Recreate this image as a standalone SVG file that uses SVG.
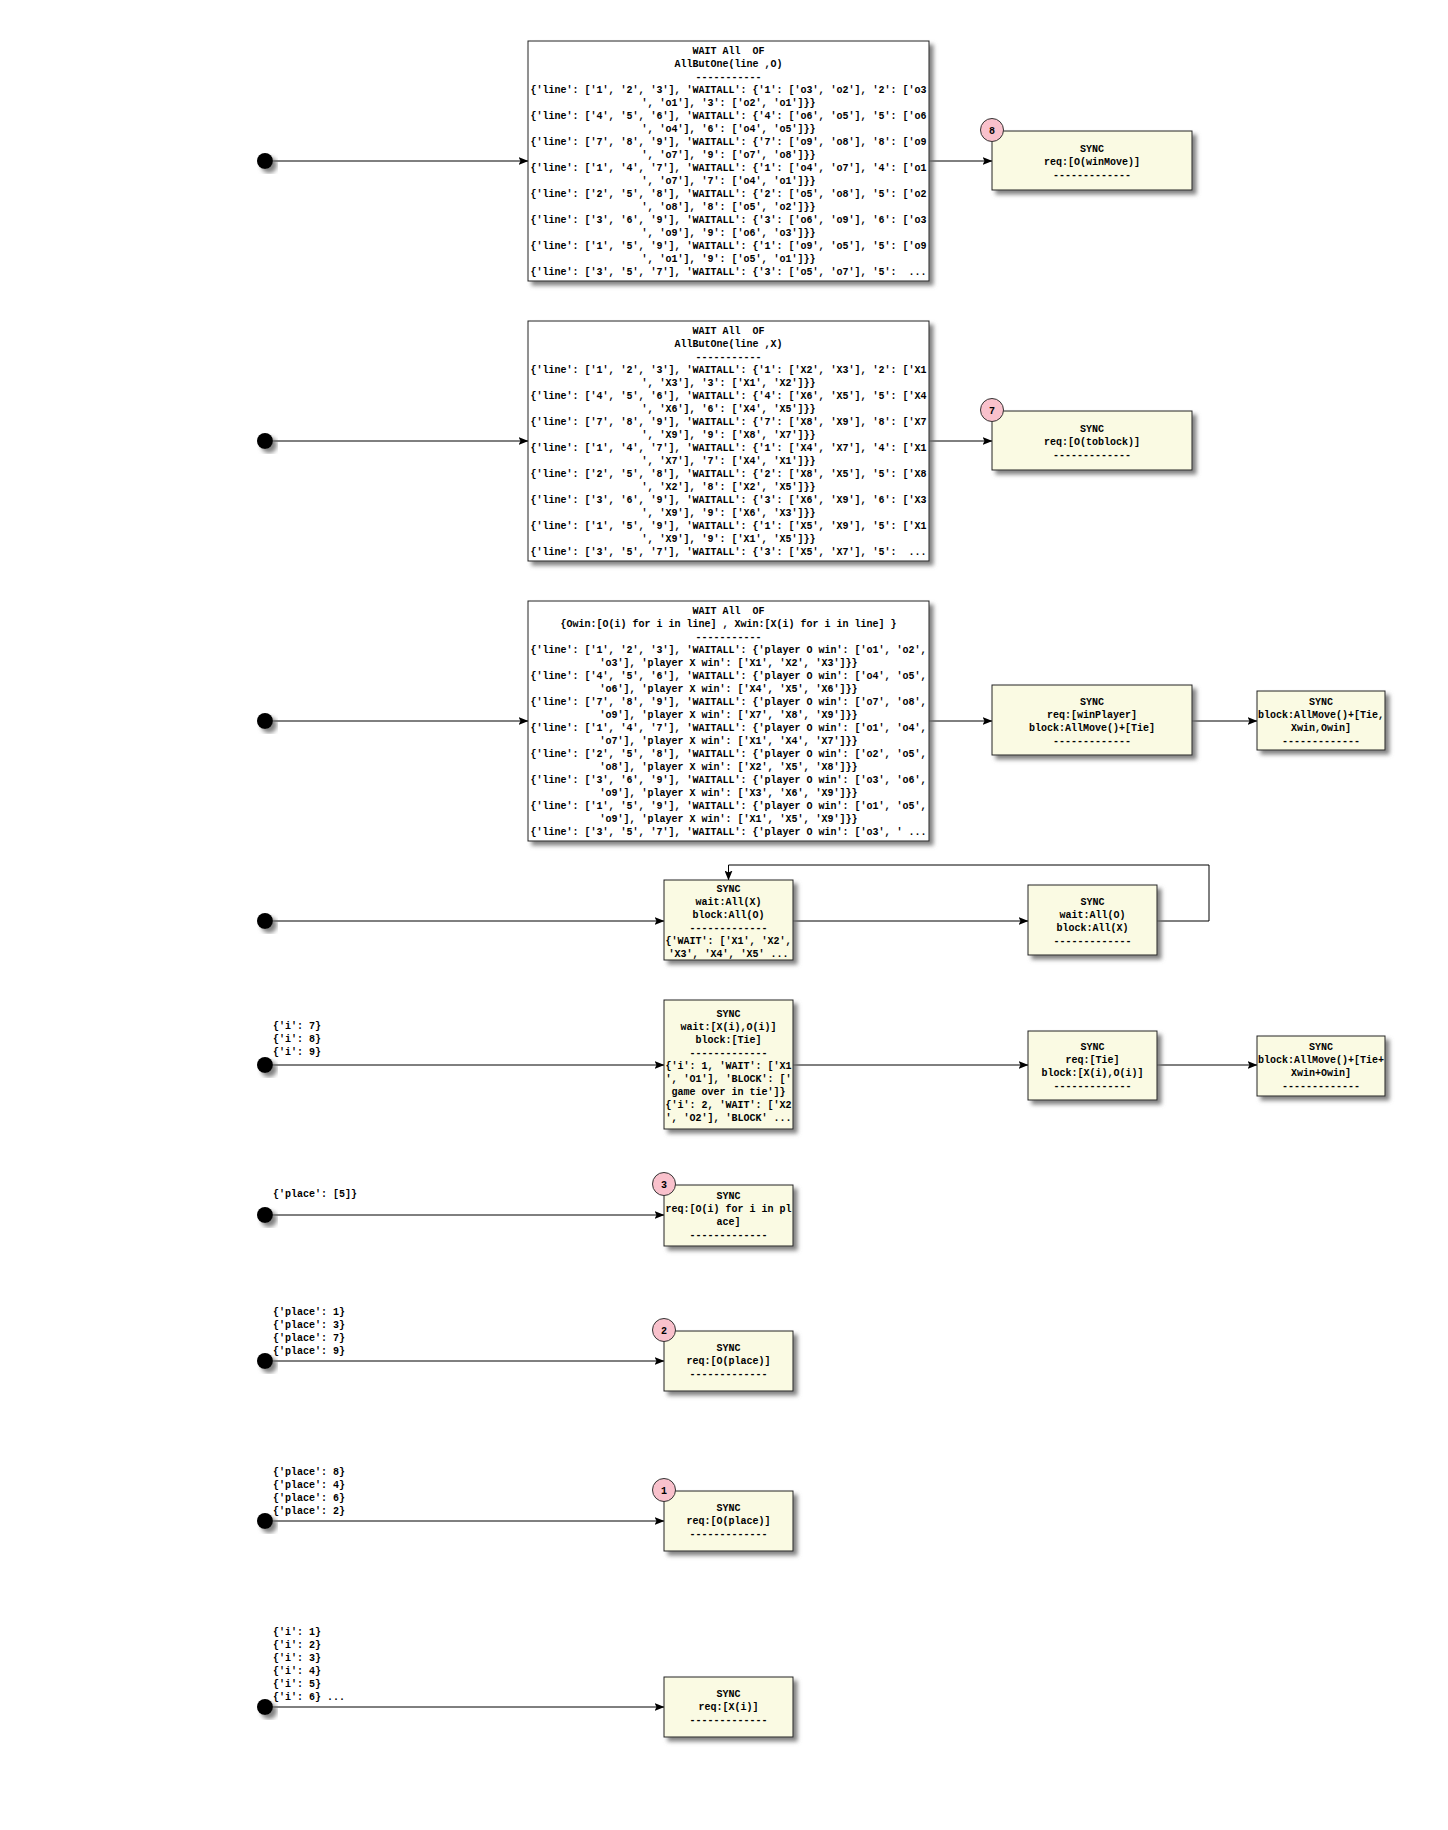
<svg xmlns="http://www.w3.org/2000/svg" width="1448" height="1830" viewBox="0 0 1448 1830">
<style>
text{font-family:"Liberation Mono","DejaVu Sans Mono",monospace;font-size:10px;font-weight:bold;fill:#000;white-space:pre}
.c{text-anchor:middle}
.l{text-anchor:start}
.big{fill:#FFFFFF;stroke:#222;stroke-width:1}
.sync{fill:#FAFAE3;stroke:#222;stroke-width:1}
.num{fill:#F9C1CC;stroke:#333;stroke-width:1}
.dot{fill:#000}
.edge{fill:none;stroke:#000;stroke-width:1}
</style>
<defs>
<filter id="sh" x="-20%" y="-20%" width="150%" height="150%">
<feGaussianBlur in="SourceAlpha" stdDeviation="2.2" result="b"/>
<feColorMatrix in="b" type="matrix" values="0 0 0 0 0.15  0 0 0 0 0.15  0 0 0 0 0.15  0 0 0 0.85 0" result="g"/>
<feOffset in="g" dx="4" dy="4" result="o"/>
<feMerge><feMergeNode in="o"/><feMergeNode in="SourceGraphic"/></feMerge>
</filter>
<marker id="ah" viewBox="0 0 10 8" refX="9.5" refY="4" markerWidth="10" markerHeight="8" markerUnits="userSpaceOnUse" orient="auto">
<path d="M0,0 L10,4 L0,8 L2,4 Z" fill="#000" stroke="none"/>
</marker>
</defs>
<rect x="0" y="0" width="1448" height="1830" fill="#FFFFFF"/>

<g id="connectors">
<line class="edge" x1="265" y1="161" x2="528" y2="161" marker-end="url(#ah)"/>
<line class="edge" x1="929" y1="161" x2="992" y2="161" marker-end="url(#ah)"/>
<line class="edge" x1="265" y1="441" x2="528" y2="441" marker-end="url(#ah)"/>
<line class="edge" x1="929" y1="441" x2="992" y2="441" marker-end="url(#ah)"/>
<line class="edge" x1="265" y1="721" x2="528" y2="721" marker-end="url(#ah)"/>
<line class="edge" x1="929" y1="721" x2="992" y2="721" marker-end="url(#ah)"/>
<line class="edge" x1="1192" y1="721" x2="1257" y2="721" marker-end="url(#ah)"/>
<line class="edge" x1="265" y1="921" x2="664" y2="921" marker-end="url(#ah)"/>
<line class="edge" x1="793" y1="921" x2="1028" y2="921" marker-end="url(#ah)"/>
<path class="edge" d="M1157,921 H1209 V865 H728.5 V880" marker-end="url(#ah)"/>
<line class="edge" x1="265" y1="1065" x2="664" y2="1065" marker-end="url(#ah)"/>
<line class="edge" x1="793" y1="1065" x2="1028" y2="1065" marker-end="url(#ah)"/>
<line class="edge" x1="1157" y1="1065" x2="1257" y2="1065" marker-end="url(#ah)"/>
<line class="edge" x1="265" y1="1215" x2="664" y2="1215" marker-end="url(#ah)"/>
<line class="edge" x1="265" y1="1361" x2="664" y2="1361" marker-end="url(#ah)"/>
<line class="edge" x1="265" y1="1521" x2="664" y2="1521" marker-end="url(#ah)"/>
<line class="edge" x1="265" y1="1707" x2="664" y2="1707" marker-end="url(#ah)"/>
</g>

<g id="start1"><circle class="dot" cx="265" cy="161" r="8" filter="url(#sh)"/></g>
<g id="start2"><circle class="dot" cx="265" cy="441" r="8" filter="url(#sh)"/></g>
<g id="start3"><circle class="dot" cx="265" cy="721" r="8" filter="url(#sh)"/></g>
<g id="start4"><circle class="dot" cx="265" cy="921" r="8" filter="url(#sh)"/></g>
<g id="start5"><circle class="dot" cx="265" cy="1065" r="8" filter="url(#sh)"/>
<text class="l" x="273" y="1028.5">{'i': 7}</text>
<text class="l" x="273" y="1041.5">{'i': 8}</text>
<text class="l" x="273" y="1054.5">{'i': 9}</text>
</g>
<g id="start6"><circle class="dot" cx="265" cy="1215" r="8" filter="url(#sh)"/>
<text class="l" x="273" y="1197">{'place': [5]}</text>
</g>
<g id="start7"><circle class="dot" cx="265" cy="1361" r="8" filter="url(#sh)"/>
<text class="l" x="273" y="1314.5">{'place': 1}</text>
<text class="l" x="273" y="1327.5">{'place': 3}</text>
<text class="l" x="273" y="1340.5">{'place': 7}</text>
<text class="l" x="273" y="1353.5">{'place': 9}</text>
</g>
<g id="start8"><circle class="dot" cx="265" cy="1521" r="8" filter="url(#sh)"/>
<text class="l" x="273" y="1474.5">{'place': 8}</text>
<text class="l" x="273" y="1487.5">{'place': 4}</text>
<text class="l" x="273" y="1500.5">{'place': 6}</text>
<text class="l" x="273" y="1513.5">{'place': 2}</text>
</g>
<g id="start9"><circle class="dot" cx="265" cy="1707" r="8" filter="url(#sh)"/>
<text class="l" x="273" y="1634.5">{'i': 1}</text>
<text class="l" x="273" y="1647.5">{'i': 2}</text>
<text class="l" x="273" y="1660.5">{'i': 3}</text>
<text class="l" x="273" y="1673.5">{'i': 4}</text>
<text class="l" x="273" y="1686.5">{'i': 5}</text>
<text class="l" x="273" y="1699.5">{'i': 6} ...</text>
</g>

<g id="waitO">
<rect class="big" x="528" y="41" width="401" height="240" filter="url(#sh)"/>
<text class="c" x="728.5" y="54"><tspan x="728.5" dy="0">WAIT All  OF</tspan><tspan x="728.5" dy="13">AllButOne(line ,O)</tspan><tspan x="728.5" dy="13">-----------</tspan><tspan x="728.5" dy="13">{'line': ['1', '2', '3'], 'WAITALL': {'1': ['o3', 'o2'], '2': ['o3</tspan><tspan x="728.5" dy="13">', 'o1'], '3': ['o2', 'o1']}}</tspan><tspan x="728.5" dy="13">{'line': ['4', '5', '6'], 'WAITALL': {'4': ['o6', 'o5'], '5': ['o6</tspan><tspan x="728.5" dy="13">', 'o4'], '6': ['o4', 'o5']}}</tspan><tspan x="728.5" dy="13">{'line': ['7', '8', '9'], 'WAITALL': {'7': ['o9', 'o8'], '8': ['o9</tspan><tspan x="728.5" dy="13">', 'o7'], '9': ['o7', 'o8']}}</tspan><tspan x="728.5" dy="13">{'line': ['1', '4', '7'], 'WAITALL': {'1': ['o4', 'o7'], '4': ['o1</tspan><tspan x="728.5" dy="13">', 'o7'], '7': ['o4', 'o1']}}</tspan><tspan x="728.5" dy="13">{'line': ['2', '5', '8'], 'WAITALL': {'2': ['o5', 'o8'], '5': ['o2</tspan><tspan x="728.5" dy="13">', 'o8'], '8': ['o5', 'o2']}}</tspan><tspan x="728.5" dy="13">{'line': ['3', '6', '9'], 'WAITALL': {'3': ['o6', 'o9'], '6': ['o3</tspan><tspan x="728.5" dy="13">', 'o9'], '9': ['o6', 'o3']}}</tspan><tspan x="728.5" dy="13">{'line': ['1', '5', '9'], 'WAITALL': {'1': ['o9', 'o5'], '5': ['o9</tspan><tspan x="728.5" dy="13">', 'o1'], '9': ['o5', 'o1']}}</tspan><tspan x="728.5" dy="13">{'line': ['3', '5', '7'], 'WAITALL': {'3': ['o5', 'o7'], '5':  ...</tspan></text>
</g>

<g id="sync8">
<rect class="sync" x="992" y="131" width="200" height="59" filter="url(#sh)"/>
<text class="c" x="1092" y="152"><tspan x="1092" dy="0">SYNC</tspan><tspan x="1092" dy="13">req:[O(winMove)]</tspan><tspan x="1092" dy="13">-------------</tspan></text>
<circle class="num" cx="992" cy="130" r="11.5"/>
<text class="c" x="992" y="133.5">8</text>
</g>

<g id="waitX">
<rect class="big" x="528" y="321" width="401" height="240" filter="url(#sh)"/>
<text class="c" x="728.5" y="334"><tspan x="728.5" dy="0">WAIT All  OF</tspan><tspan x="728.5" dy="13">AllButOne(line ,X)</tspan><tspan x="728.5" dy="13">-----------</tspan><tspan x="728.5" dy="13">{'line': ['1', '2', '3'], 'WAITALL': {'1': ['X2', 'X3'], '2': ['X1</tspan><tspan x="728.5" dy="13">', 'X3'], '3': ['X1', 'X2']}}</tspan><tspan x="728.5" dy="13">{'line': ['4', '5', '6'], 'WAITALL': {'4': ['X6', 'X5'], '5': ['X4</tspan><tspan x="728.5" dy="13">', 'X6'], '6': ['X4', 'X5']}}</tspan><tspan x="728.5" dy="13">{'line': ['7', '8', '9'], 'WAITALL': {'7': ['X8', 'X9'], '8': ['X7</tspan><tspan x="728.5" dy="13">', 'X9'], '9': ['X8', 'X7']}}</tspan><tspan x="728.5" dy="13">{'line': ['1', '4', '7'], 'WAITALL': {'1': ['X4', 'X7'], '4': ['X1</tspan><tspan x="728.5" dy="13">', 'X7'], '7': ['X4', 'X1']}}</tspan><tspan x="728.5" dy="13">{'line': ['2', '5', '8'], 'WAITALL': {'2': ['X8', 'X5'], '5': ['X8</tspan><tspan x="728.5" dy="13">', 'X2'], '8': ['X2', 'X5']}}</tspan><tspan x="728.5" dy="13">{'line': ['3', '6', '9'], 'WAITALL': {'3': ['X6', 'X9'], '6': ['X3</tspan><tspan x="728.5" dy="13">', 'X9'], '9': ['X6', 'X3']}}</tspan><tspan x="728.5" dy="13">{'line': ['1', '5', '9'], 'WAITALL': {'1': ['X5', 'X9'], '5': ['X1</tspan><tspan x="728.5" dy="13">', 'X9'], '9': ['X1', 'X5']}}</tspan><tspan x="728.5" dy="13">{'line': ['3', '5', '7'], 'WAITALL': {'3': ['X5', 'X7'], '5':  ...</tspan></text>
</g>

<g id="sync7">
<rect class="sync" x="992" y="411" width="200" height="59" filter="url(#sh)"/>
<text class="c" x="1092" y="432"><tspan x="1092" dy="0">SYNC</tspan><tspan x="1092" dy="13">req:[O(toblock)]</tspan><tspan x="1092" dy="13">-------------</tspan></text>
<circle class="num" cx="992" cy="410" r="11.5"/>
<text class="c" x="992" y="413.5">7</text>
</g>

<g id="waitWin">
<rect class="big" x="528" y="601" width="401" height="240" filter="url(#sh)"/>
<text class="c" x="728.5" y="614"><tspan x="728.5" dy="0">WAIT All  OF</tspan><tspan x="728.5" dy="13">{Owin:[O(i) for i in line] , Xwin:[X(i) for i in line] }</tspan><tspan x="728.5" dy="13">-----------</tspan><tspan x="728.5" dy="13">{'line': ['1', '2', '3'], 'WAITALL': {'player O win': ['o1', 'o2',</tspan><tspan x="728.5" dy="13">'o3'], 'player X win': ['X1', 'X2', 'X3']}}</tspan><tspan x="728.5" dy="13">{'line': ['4', '5', '6'], 'WAITALL': {'player O win': ['o4', 'o5',</tspan><tspan x="728.5" dy="13">'o6'], 'player X win': ['X4', 'X5', 'X6']}}</tspan><tspan x="728.5" dy="13">{'line': ['7', '8', '9'], 'WAITALL': {'player O win': ['o7', 'o8',</tspan><tspan x="728.5" dy="13">'o9'], 'player X win': ['X7', 'X8', 'X9']}}</tspan><tspan x="728.5" dy="13">{'line': ['1', '4', '7'], 'WAITALL': {'player O win': ['o1', 'o4',</tspan><tspan x="728.5" dy="13">'o7'], 'player X win': ['X1', 'X4', 'X7']}}</tspan><tspan x="728.5" dy="13">{'line': ['2', '5', '8'], 'WAITALL': {'player O win': ['o2', 'o5',</tspan><tspan x="728.5" dy="13">'o8'], 'player X win': ['X2', 'X5', 'X8']}}</tspan><tspan x="728.5" dy="13">{'line': ['3', '6', '9'], 'WAITALL': {'player O win': ['o3', 'o6',</tspan><tspan x="728.5" dy="13">'o9'], 'player X win': ['X3', 'X6', 'X9']}}</tspan><tspan x="728.5" dy="13">{'line': ['1', '5', '9'], 'WAITALL': {'player O win': ['o1', 'o5',</tspan><tspan x="728.5" dy="13">'o9'], 'player X win': ['X1', 'X5', 'X9']}}</tspan><tspan x="728.5" dy="13">{'line': ['3', '5', '7'], 'WAITALL': {'player O win': ['o3', ' ...</tspan></text>
</g>

<g id="syncWinPlayer">
<rect class="sync" x="992" y="685" width="200" height="70" filter="url(#sh)"/>
<text class="c" x="1092" y="705"><tspan x="1092" dy="0">SYNC</tspan><tspan x="1092" dy="13">req:[winPlayer]</tspan><tspan x="1092" dy="13">block:AllMove()+[Tie]</tspan><tspan x="1092" dy="13">-------------</tspan></text>
</g>

<g id="syncGameOver1">
<rect class="sync" x="1257" y="691" width="128" height="59" filter="url(#sh)"/>
<text class="c" x="1321" y="705"><tspan x="1321" dy="0">SYNC</tspan><tspan x="1321" dy="13">block:AllMove()+[Tie,</tspan><tspan x="1321" dy="13">Xwin,Owin]</tspan><tspan x="1321" dy="13">-------------</tspan></text>
</g>

<g id="syncWaitX">
<rect class="sync" x="664" y="880" width="129" height="80" filter="url(#sh)"/>
<text class="c" x="728.5" y="892"><tspan x="728.5" dy="0">SYNC</tspan><tspan x="728.5" dy="13">wait:All(X)</tspan><tspan x="728.5" dy="13">block:All(O)</tspan><tspan x="728.5" dy="13">-------------</tspan><tspan x="728.5" dy="13">{'WAIT': ['X1', 'X2',</tspan><tspan x="728.5" dy="13">'X3', 'X4', 'X5' ...</tspan></text>
</g>

<g id="syncWaitO">
<rect class="sync" x="1028" y="885" width="129" height="70" filter="url(#sh)"/>
<text class="c" x="1092.5" y="905"><tspan x="1092.5" dy="0">SYNC</tspan><tspan x="1092.5" dy="13">wait:All(O)</tspan><tspan x="1092.5" dy="13">block:All(X)</tspan><tspan x="1092.5" dy="13">-------------</tspan></text>
</g>

<g id="syncWaitXO">
<rect class="sync" x="664" y="1000" width="129" height="129" filter="url(#sh)"/>
<text class="c" x="728.5" y="1017"><tspan x="728.5" dy="0">SYNC</tspan><tspan x="728.5" dy="13">wait:[X(i),O(i)]</tspan><tspan x="728.5" dy="13">block:[Tie]</tspan><tspan x="728.5" dy="13">-------------</tspan><tspan x="728.5" dy="13">{'i': 1, 'WAIT': ['X1</tspan><tspan x="728.5" dy="13">', 'O1'], 'BLOCK': ['</tspan><tspan x="728.5" dy="13">game over in tie']}</tspan><tspan x="728.5" dy="13">{'i': 2, 'WAIT': ['X2</tspan><tspan x="728.5" dy="13">', 'O2'], 'BLOCK' ...</tspan></text>
</g>

<g id="syncTie">
<rect class="sync" x="1028" y="1031" width="129" height="69" filter="url(#sh)"/>
<text class="c" x="1092.5" y="1050"><tspan x="1092.5" dy="0">SYNC</tspan><tspan x="1092.5" dy="13">req:[Tie]</tspan><tspan x="1092.5" dy="13">block:[X(i),O(i)]</tspan><tspan x="1092.5" dy="13">-------------</tspan></text>
</g>

<g id="syncGameOver2">
<rect class="sync" x="1257" y="1036" width="128" height="60" filter="url(#sh)"/>
<text class="c" x="1321" y="1050"><tspan x="1321" dy="0">SYNC</tspan><tspan x="1321" dy="13">block:AllMove()+[Tie+</tspan><tspan x="1321" dy="13">Xwin+Owin]</tspan><tspan x="1321" dy="13">-------------</tspan></text>
</g>

<g id="sync3">
<rect class="sync" x="664" y="1185" width="129" height="61" filter="url(#sh)"/>
<text class="c" x="728.5" y="1199"><tspan x="728.5" dy="0">SYNC</tspan><tspan x="728.5" dy="13">req:[O(i) for i in pl</tspan><tspan x="728.5" dy="13">ace]</tspan><tspan x="728.5" dy="13">-------------</tspan></text>
<circle class="num" cx="664" cy="1184" r="11.5"/>
<text class="c" x="664" y="1187.5">3</text>
</g>

<g id="sync2">
<rect class="sync" x="664" y="1331" width="129" height="60" filter="url(#sh)"/>
<text class="c" x="728.5" y="1351"><tspan x="728.5" dy="0">SYNC</tspan><tspan x="728.5" dy="13">req:[O(place)]</tspan><tspan x="728.5" dy="13">-------------</tspan></text>
<circle class="num" cx="664" cy="1330" r="11.5"/>
<text class="c" x="664" y="1333.5">2</text>
</g>

<g id="sync1">
<rect class="sync" x="664" y="1491" width="129" height="60" filter="url(#sh)"/>
<text class="c" x="728.5" y="1511"><tspan x="728.5" dy="0">SYNC</tspan><tspan x="728.5" dy="13">req:[O(place)]</tspan><tspan x="728.5" dy="13">-------------</tspan></text>
<circle class="num" cx="664" cy="1490" r="11.5"/>
<text class="c" x="664" y="1493.5">1</text>
</g>

<g id="syncReqX">
<rect class="sync" x="664" y="1677" width="129" height="60" filter="url(#sh)"/>
<text class="c" x="728.5" y="1697"><tspan x="728.5" dy="0">SYNC</tspan><tspan x="728.5" dy="13">req:[X(i)]</tspan><tspan x="728.5" dy="13">-------------</tspan></text>
</g>
</svg>
